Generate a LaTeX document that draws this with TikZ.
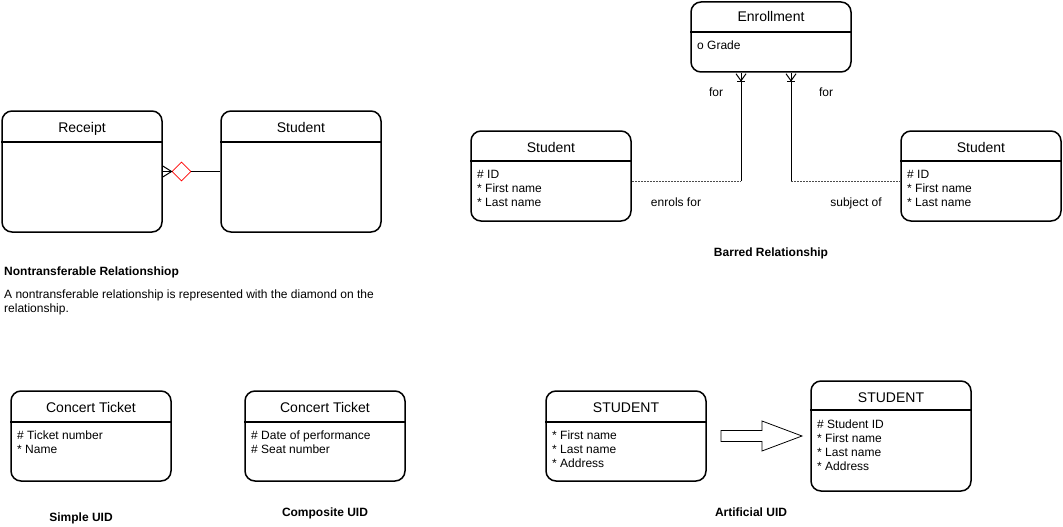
\documentclass[tikz,border=0pt]{standalone}
\usepackage{fontspec}
\setmainfont{Liberation Sans}
\usetikzlibrary{arrows,calc,shapes,positioning}
\tikzset{>=latex}
\tikzstyle{entity}=[rectangle,draw=black,line width=1.5pt,rounded corners=10pt,minimum width=160pt,inner sep=0pt]
\tikzstyle{etitle}=[font=\fontsize{14}{16}\selectfont,inner sep=0pt,text height=10pt,text depth=0pt]
\tikzstyle{attrs}=[font=\fontsize{12}{14}\selectfont,align=left,anchor=north west,inner sep=0pt]
\tikzstyle{caption}=[font=\fontsize{12}{14}\selectfont\bfseries,inner sep=0pt,text height=8.6pt,text depth=0pt]
\tikzstyle{rellabel}=[font=\fontsize{12}{14}\selectfont,inner sep=0pt,text height=8.6pt,text depth=0pt]
\tikzstyle{rel}=[line width=1pt]
\tikzstyle{optional}=[dash pattern=on 2pt off 1pt,line width=0.7pt,black!70]

\begin{document}
\begin{tikzpicture}[x=1pt,y=-1pt]
	\useasboundingbox (0,0) rectangle (1063,527);

	% nontransferable
	\node[entity, minimum height=121pt] (receipt) at (82, 171.5) {};
	\node[etitle] (receipttitle) at (82, 127) {Receipt};
	\draw[line width=1.5pt] (receipt.west |- 0,142) -- (receipt.east |- 0,142);
	\node[entity, minimum height=121pt] (studentA) at (301, 171.5) {};
	\node[etitle] (studentAtitle) at (301, 127) {Student};
	\draw[line width=1.5pt] (studentA.west |- 0,142) -- (studentA.east |- 0,142);
	\node[diamond, draw=red, line width=0.8pt, minimum width=19pt, minimum height=19pt, inner sep=0pt] (nontrans) at (181.5, 171.5) {};
	\draw[rel] (nontrans) -- (studentA);
	\draw[rel] (nontrans.west) -- (receipt.east);
	\draw[rel] (receipt.east |- 0,166) -- (nontrans.west) -- (receipt.east |- 0,177);
	\node[caption, anchor=west] (nontranscap) at (4, 271) {Nontransferable Relationshiop};
	\node[attrs] (nontranstext) at (4, 290) {A nontransferable relationship is represented with the diamond on the\\relationship.};

	% barred
	\node[entity, minimum height=70pt] (enroll) at (771, 37) {};
	\node[etitle] (enrolltitle) at (771, 17) {Enrollment};
	\draw[line width=1.5pt] (enroll.west |- 0,32) -- (enroll.east |- 0,32);
	\node[attrs] (enrollattrs) at (697, 41) {o Grade};
	\node[entity, minimum height=90pt] (studentB) at (551, 176) {};
	\node[etitle] (studentBtitle) at (551, 147) {Student};
	\draw[line width=1.5pt] (studentB.west |- 0,161) -- (studentB.east |- 0,161);
	\node[attrs] (studentBattrs) at (477, 170) {\# ID\\* First name\\* Last name};
	\node[entity, minimum height=90pt] (studentC) at (981, 176) {};
	\node[etitle] (studentCtitle) at (981, 147) {Student};
	\draw[line width=1.5pt] (studentC.west |- 0,161) -- (studentC.east |- 0,161);
	\node[attrs] (studentCattrs) at (907, 170) {\# ID\\* First name\\* Last name};
	\coordinate (bendA) at (741, 181);
	\coordinate (bendB) at (791, 181);
	\draw[optional] (studentB.east |- bendA) -- (bendA);
	\draw[rel] (bendA) -- (enroll.south -| bendA);
	\draw[rel] (enroll.south -| bendA) ++(-5,1) -- ++(5,7) -- ++(5,-7);
	\draw[rel] (enroll.south -| bendA) ++(-4,9) -- ++(8,0);
	\draw[optional] (bendB) -- (studentC.west |- bendB);
	\draw[rel] (bendB) -- (enroll.south -| bendB);
	\draw[rel] (enroll.south -| bendB) ++(-5,1) -- ++(5,7) -- ++(5,-7);
	\draw[rel] (enroll.south -| bendB) ++(-4,9) -- ++(8,0);
	\node[rellabel] (forA) at (716, 92) {for};
	\node[rellabel] (forB) at (826, 92) {for};
	\node[rellabel] (enrolsfor) at (676, 202) {enrols for};
	\node[rellabel] (subjectof) at (856, 202) {subject of};
	\node[caption] (barredcap) at (771, 252) {Barred Relationship};

	% simple and composite UID
	\node[entity, minimum height=90pt] (ticketA) at (91, 436) {};
	\node[etitle] (ticketAtitle) at (91, 407) {Concert Ticket};
	\draw[line width=1.5pt] (ticketA.west |- 0,422) -- (ticketA.east |- 0,422);
	\node[attrs] (ticketAattrs) at (17, 431) {\# Ticket number\\* Name};
	\node[caption] (simplecap) at (81, 517) {Simple UID};
	\node[entity, minimum height=90pt] (ticketB) at (325, 436) {};
	\node[etitle] (ticketBtitle) at (325, 407) {Concert Ticket};
	\draw[line width=1.5pt] (ticketB.west |- 0,422) -- (ticketB.east |- 0,422);
	\node[attrs] (ticketBattrs) at (251, 431) {\# Date of performance\\\# Seat number};
	\node[caption] (compositecap) at (325, 512) {Composite UID};

	% artificial UID
	\node[entity, minimum height=90pt] (studentD) at (626, 436) {};
	\node[etitle] (studentDtitle) at (626, 407) {STUDENT};
	\draw[line width=1.5pt] (studentD.west |- 0,422) -- (studentD.east |- 0,422);
	\node[attrs] (studentDattrs) at (552, 431) {* First name\\* Last name\\* Address};
	\node[entity, minimum height=110pt] (studentE) at (891, 436) {};
	\node[etitle] (studentEtitle) at (891, 397) {STUDENT};
	\draw[line width=1.5pt] (studentE.west |- 0,410) -- (studentE.east |- 0,410);
	\node[attrs] (studentEattrs) at (817, 420) {\# Student ID\\* First name\\* Last name\\* Address};
	\draw[line width=0.8pt] (721,430.5) -- (762,430.5) -- (762,421) -- (802,436) -- (762,451) -- (762,441.5) -- (721,441.5) -- cycle;
	\node[caption] (artificialcap) at (751, 512) {Artificial UID};
\end{tikzpicture}
\end{document}
